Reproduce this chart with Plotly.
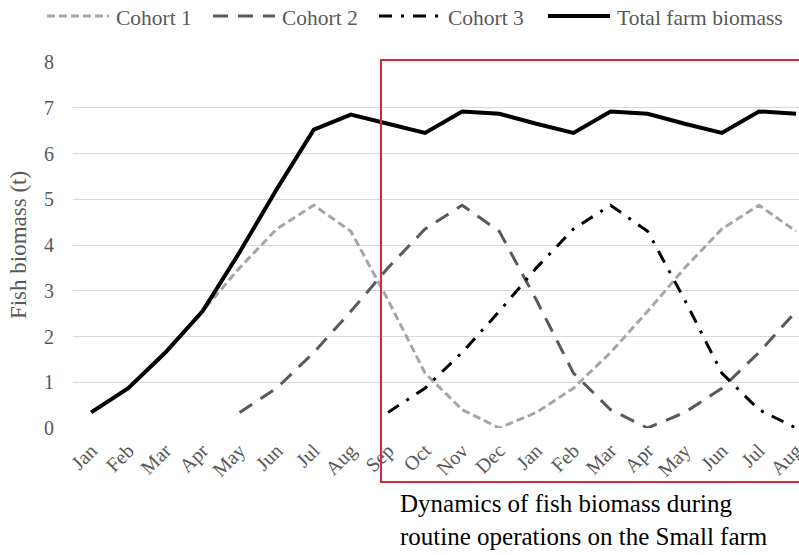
import plotly.graph_objects as go

# ---- data ----
months = ["Jan", "Feb", "Mar", "Apr", "May", "Jun", "Jul", "Aug", "Sep", "Oct", "Nov", "Dec",
          "Jan", "Feb", "Mar", "Apr", "May", "Jun", "Jul", "Aug"]
cohort1 = [0.34, 0.87, 1.65, 2.55, 3.5, 4.35, 4.87, 4.3, 2.8, 1.2, 0.4, 0.0,
           0.34, 0.87, 1.65, 2.55, 3.5, 4.35, 4.87, 4.3]
cohort2 = [None, None, None, None, 0.34, 0.87, 1.65, 2.55, 3.5, 4.35, 4.87, 4.3,
           2.8, 1.2, 0.4, 0.0, 0.34, 0.87, 1.65, 2.55]
cohort3 = [None, None, None, None, None, None, None, None, 0.34, 0.87, 1.65, 2.55,
           3.5, 4.35, 4.87, 4.3, 2.8, 1.2, 0.4, 0.0]
total = [0.34, 0.87, 1.65, 2.55, 3.84, 5.22, 6.52, 6.85, 6.65, 6.45, 6.92, 6.87,
         6.65, 6.45, 6.92, 6.87, 6.65, 6.45, 6.92, 6.87]
y_ticks = [0, 1, 2, 3, 4, 5, 6, 7, 8]
series_names = ["Cohort 1", "Cohort 2", "Cohort 3", "Total farm biomass"]
caption = "Dynamics of fish biomass during<br>routine operations on the Small farm"

# ---- layout constants ----
W, H = 799, 555
ML, MR, MT, MB = 73, 0, 62, 127
FONT = "Liberation Serif"
GRAY = "#595959"

def px_x(p):
    """pixel -> paper x"""
    return (p - ML) / (W - ML - MR)

def px_y(p):
    """pixel -> paper y"""
    return (H - MB - p) / (H - MT - MB)

styles = [
    dict(color="#A6A6A6", width=3, dash="8px,4px"),
    dict(color="#595959", width=3, dash="15px,10px"),
    dict(color="#000000", width=3, dash="13px,9px,3px,9px"),
    dict(color="#000000", width=4, dash="solid"),
]
series = [cohort1, cohort2, cohort3, total]
xs = list(range(len(months)))

fig = go.Figure()
for name, vals, st in zip(series_names, series, styles):
    fig.add_trace(go.Scatter(x=xs, y=vals, name=name, mode="lines",
                             line=st, showlegend=False, connectgaps=False))

# manual legend (wide line samples as in the original)
legend_sample_x = [47, 213, 379, 548]
shapes = []
annotations = []
for name, st, sx in zip(series_names, styles, legend_sample_x):
    shapes.append(dict(type="line", xref="paper", yref="paper",
                       x0=px_x(sx), x1=px_x(sx + 62), y0=px_y(16), y1=px_y(16),
                       line=st))
    annotations.append(dict(text=name, xref="paper", yref="paper",
                            x=px_x(sx + 67), y=px_y(18), xanchor="left", yanchor="middle",
                            showarrow=False, font=dict(family=FONT, size=21.5, color=GRAY)))

# red highlight frame
shapes.append(dict(type="rect", xref="paper", yref="paper",
                   x0=px_x(381), x1=px_x(812), y0=px_y(482), y1=px_y(60),
                   line=dict(color="#D8263A", width=2), fillcolor="rgba(0,0,0,0)"))

annotations.append(dict(text=caption, xref="paper", yref="paper",
                        x=px_x(398), y=px_y(520), xanchor="left", yanchor="middle",
                        align="left", showarrow=False,
                        font=dict(family=FONT, size=25, color="#000000")))

fig.update_layout(
    width=W, height=H,
    margin=dict(l=ML, r=MR, t=MT, b=MB, autoexpand=False),
    plot_bgcolor="white", paper_bgcolor="white",
    font=dict(family=FONT, color=GRAY),
    shapes=shapes, annotations=annotations,
    xaxis=dict(range=[-0.49, 19.08], tickvals=xs, ticktext=months, tickangle=-45,
               showgrid=False, zeroline=False, showline=False, ticks="",
               ticklabeloverflow="allow",
               tickfont=dict(family=FONT, size=20, color=GRAY), ticklabelstandoff=6),
    yaxis=dict(range=[0, 8], tickvals=y_ticks, showgrid=True, gridcolor="#D9D9D9",
               gridwidth=1, zeroline=False, showline=False, ticks="",
               tickfont=dict(family=FONT, size=20, color=GRAY), ticklabelstandoff=18,
               title=dict(text="Fish biomass (t)", standoff=10,
                          font=dict(family=FONT, size=23, color=GRAY))),
)

fig.write_html("out.html",
               config={"displayModeBar": False},
               post_script="document.body.style.margin='0';document.body.style.overflow='hidden';")
